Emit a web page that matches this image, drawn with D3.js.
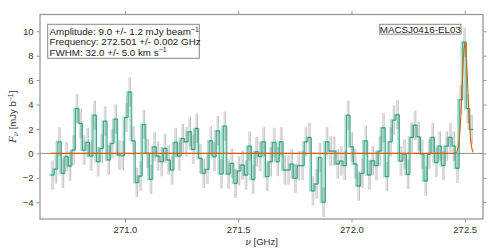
<!DOCTYPE html>
<html><head><meta charset="utf-8">
<script src="https://cdn.jsdelivr.net/npm/d3@7"></script>
<style>
html,body{margin:0;padding:0;background:#fff;}
text{font-family:"Liberation Sans",Arial,sans-serif;}
</style></head>
<body><svg id="c" width="498" height="249"></svg>
<script>
// ---- data ----
const freqStart = 270.6722;   // GHz, lower edge of first channel
const chanWidth = 0.01555;    // GHz
const flux = [
 -1.77,-1.28,0.95,-1.63,-0.27,-1.03,0.27,3.67,2.45,0.27,
 0.9,-0.22,3.13,-0.68,0.41,2.64,-0.54,0.82,2.8,-0.14,
 -0.19,2.94,5.03,1.03,-2.39,-1.85,2.37,0,-2.12,0.54,
 -0.22,-0.68,0.41,-0.54,-1.36,0.9,-0.22,1.22,0.95,1.77,
 0.33,2.04,-0.41,-1.63,-1.31,1.03,-0.27,1.85,-1.69,2.23,
 -1.69,-0.82,-2.45,-1.44,-0.95,-1.77,0.6,-2.12,0.14,-0.27,
 0.95,-1.9,-0.68,0.9,-0.68,0.95,-1.36,-1.36,-0.87,-2.04,
 -1.0,-1.0,0.95,1.3,-3.07,-2.5,-0.35,-4.0,0.95,0.19,
 0.19,-0.87,-0.63,-1.0,3.13,0.54,-0.87,-2.67,-1.63,1.03,
 -1.77,-0.6,-1.0,0.19,2.1,-1.9,0.95,2.72,3.16,-0.63,
 -0.05,-1.71,1.31,2.31,1.36,-0.05,-2.26,-0.05,1.31,-0.76,
 0.6,-1.0,0.6,1.31,0.6,-1.22,4.4,9.1,3.67,1.96
];
const fluxErr = 1.2;          // mJy/beam per channel
const fitAmp = 9.0, fitCenter = 272.501, fitFwhmKms = 32.0;
const xTicks = [271.0, 271.5, 272.0, 272.5];
const yTicks = [-4,-2,0,2,4,6,8,10];
const infoLines = ["Amplitude: 9.0 +/- 1.2 mJy beam", "Frequency: 272.501 +/- 0.002 GHz", "FWHM: 32.0 +/- 5.0 km s"];
const sourceName = "MACSJ0416-EL03";

// ---- layout ----
const svg = d3.select("#c");
const L=40, R=483, T=14.5, B=219;
const x = d3.scaleLinear().domain([270.6247, 272.5808]).range([L,R]);
const y = d3.scaleLinear().domain([-5.37, 11.37]).range([B,T]);
const green = "#1b9e77", orange = "#d95f02";

const chans = flux.map((v,i)=>({nu: freqStart + (i+0.5)*chanWidth, v}));

// zero line
svg.append("line").attr("x1",L).attr("x2",R).attr("y1",y(0)).attr("y2",y(0))
  .attr("stroke","#8c8c8c").attr("stroke-width",1);

// error bars
const g = svg.append("g");
g.selectAll(".e1").data(chans).join("line")
  .attr("x1",d=>x(d.nu)-0.8).attr("x2",d=>x(d.nu)-0.8)
  .attr("y1",d=>y(d.v-fluxErr)).attr("y2",d=>y(d.v+fluxErr))
  .attr("stroke","#dcdcdc").attr("stroke-width",1.6);
g.selectAll(".e2").data(chans).join("line")
  .attr("x1",d=>x(d.nu)+0.6).attr("x2",d=>x(d.nu)+0.6)
  .attr("y1",d=>y(d.v-fluxErr)).attr("y2",d=>y(d.v+fluxErr))
  .attr("stroke","#a8a8a8").attr("stroke-width",0.7);

// step curves
const stepPts = [];
chans.forEach(d=>{ stepPts.push([d.nu-chanWidth/2,d.v]); stepPts.push([d.nu+chanWidth/2,d.v]); });
const line = d3.line().x(p=>x(p[0])).y(p=>y(p[1]));
svg.append("path").attr("d",line(stepPts)).attr("fill","none")
  .attr("stroke",green).attr("stroke-opacity",0.35).attr("stroke-width",1.8)
  .attr("transform","translate(-1.3,0)");
svg.append("path").attr("d",line(stepPts)).attr("fill","none")
  .attr("stroke",green).attr("stroke-width",0.9);

// gaussian fit
const sigNu = fitFwhmKms/2.35482 * fitCenter/299792.458;
const fitPts = d3.range(0,801).map(k=>{
  const nu = freqStart + k/800*chanWidth*flux.length;
  return [nu, fitAmp*Math.exp(-0.5*((nu-fitCenter)/sigNu)**2)];
});
svg.append("path").attr("d",line(fitPts)).attr("fill","none")
  .attr("stroke",orange).attr("stroke-width",1.1);

// frame
svg.append("rect").attr("x",L).attr("y",T).attr("width",R-L).attr("height",B-T)
  .attr("fill","none").attr("stroke","#999").attr("stroke-width",1.3);

// axes
const tc="#999";
const ax = svg.append("g").attr("transform",`translate(0,${B})`)
  .call(d3.axisBottom(x).tickValues(xTicks).tickFormat(d3.format(".1f")).tickSize(3.5).tickPadding(4));
const axT = svg.append("g").attr("transform",`translate(0,${T})`)
  .call(d3.axisTop(x).tickValues(xTicks).tickFormat("").tickSize(3.5));
const ay = svg.append("g").attr("transform",`translate(${L},0)`)
  .call(d3.axisLeft(y).tickValues(yTicks).tickFormat(d=>d<0?"\u2212"+Math.abs(d):d).tickSize(3.5).tickPadding(3));
const ayR = svg.append("g").attr("transform",`translate(${R},0)`)
  .call(d3.axisRight(y).tickValues(yTicks).tickFormat("").tickSize(3.5));
[ax,axT,ay,ayR].forEach(a=>{
  a.select(".domain").remove();
  a.selectAll(".tick line").attr("stroke",tc).attr("stroke-width",1);
  a.selectAll(".tick text").attr("fill","#333").attr("font-size","9.5px")
   .attr("font-family","'Liberation Sans',Arial,sans-serif");
});

// axis labels
svg.append("text").attr("x",(L+R)/2).attr("y",245).attr("text-anchor","middle")
  .attr("font-size","9.5px").attr("fill","#333")
  .html('<tspan font-style="italic" font-family="DejaVu Serif">ν</tspan> [GHz]');
svg.append("text").attr("transform",`translate(16,${(T+B)/2}) rotate(-90)`).attr("text-anchor","middle")
  .attr("font-size","9.5px").attr("fill","#333")
  .html('<tspan font-style="italic" font-family="DejaVu Serif">F</tspan><tspan font-style="italic" font-family="DejaVu Serif" font-size="7px" dy="2">ν</tspan><tspan dy="-2"> [mJy b</tspan><tspan font-size="7px" dy="-3.5">−1</tspan><tspan dy="3.5">]</tspan>');

// info box
const ib = svg.append("g");
ib.append("rect").attr("x",47.7).attr("y",24.3).attr("width",151.6).attr("height",34)
  .attr("fill","#fff").attr("stroke","#888").attr("stroke-width",1);
const sup = [true,false,true];
infoLines.forEach((s,i)=>{
  const t = ib.append("text").attr("x",49.5).attr("y",35+i*10.4).attr("font-size","9.8px").attr("fill","#222");
  t.append("tspan").text(s);
  if(sup[i]) t.append("tspan").attr("font-size","7px").attr("dy","-3.5").text("−1");
});

// source label
const sb = svg.append("g");
sb.append("rect").attr("x",379.7).attr("y",24.3).attr("width",81.3).attr("height",9.9)
  .attr("fill","#fff").attr("stroke","#888").attr("stroke-width",1);
sb.append("text").attr("x",420.3).attr("y",32.6).attr("text-anchor","middle")
  .attr("font-size","9.8px").attr("fill","#222").text(sourceName);
</script></body></html>
